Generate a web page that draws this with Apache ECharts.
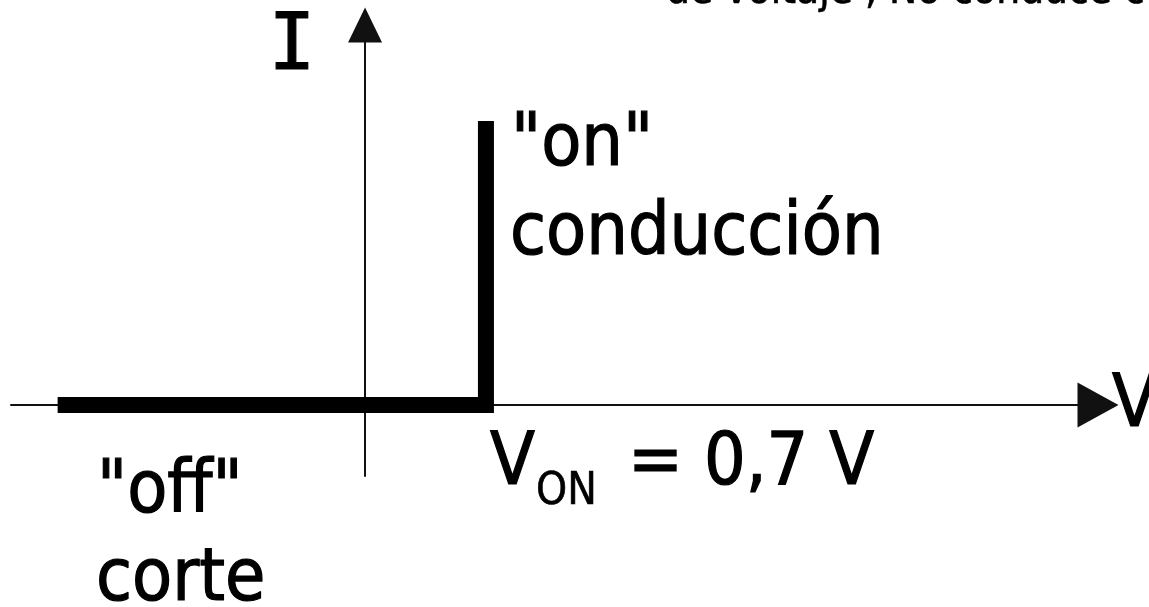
<!DOCTYPE html>
<html>
<head>
<meta charset="utf-8">
<script src="https://cdn.jsdelivr.net/npm/echarts@6/dist/echarts.min.js"></script>
<style>
  html, body { margin: 0; padding: 0; background: #fff; }
  #diode_curve { width: 1149px; height: 607px; }
</style>
</head>
<body>
<div id="diode_curve"></div>
<script>
// axis ranges (V on x, I on y)
const voltRange = [-2.05, 4.244]
const currentRange = [-1, 5.35]

// ideal diode characteristic: off until V_ON, then vertical
const curveVolt = [-1.78, 0.7, 0.7]
const curveCurrent = [0, 0, 4]

const font = '"DejaVu Sans Condensed", "DejaVu Sans", sans-serif'
const fs = 73

function label(text, x, y, size, family, align) {
  return {
    type: 'text',
    x: x,
    y: y,
    silent: true,
    style: {
      text: text,
      fill: '#000',
      stroke: '#000',
      lineWidth: size > 50 ? 1.2 : 0.6,
      font: size + 'px ' + (family || font),
      align: align || 'left',
      verticalAlign: 'middle'
    }
  }
}

const chart = echarts.init(document.getElementById('diode_curve'))
chart.setOption({
  animation: false,
  grid: {
    left: 11,
    right: 51,
    top: 25,
    bottom: 131
  },
  xAxis: {
    type: 'value',
    min: voltRange[0],
    max: voltRange[1],
    axisLine: {
      onZero: true,
      symbol: ['none', 'triangle'],
      symbolSize: [45, 41],
      lineStyle: { color: '#111', width: 2 }
    },
    axisTick: { show: false },
    axisLabel: { show: false },
    splitLine: { show: false }
  },
  yAxis: {
    type: 'value',
    min: currentRange[0],
    max: currentRange[1],
    axisLine: {
      onZero: true,
      symbol: ['none', 'triangle'],
      symbolSize: [34, 35],
      lineStyle: { color: '#111', width: 2 }
    },
    axisTick: { show: false },
    axisLabel: { show: false },
    splitLine: { show: false }
  },
  series: [
    {
      type: 'line',
      data: curveVolt.map((v, i) => [v, curveCurrent[i]]),
      showSymbol: false,
      symbol: 'none',
      z: 5,
      lineStyle: {
        color: '#000',
        width: 16,
        join: 'miter',
        cap: 'butt'
      }
    }
  ],
  graphic: [
    label('I', 292, 49, 78, '"DejaVu Sans Mono", monospace', 'center'),
    label('"on"', 511, 146, fs),
    label('conducción', 510, 235, fs),
    label('V', 490, 465, fs),
    label('ON', 536, 493, 44),
    label('= 0,7 V', 628, 465, fs),
    label('"off"', 97, 493, fs),
    label('corte', 96, 581, fs),
    label('V', 1112, 407, fs),
    label('de voltaje , No conduce c', 666, -8, 42)
  ]
})
</script>
</body>
</html>
